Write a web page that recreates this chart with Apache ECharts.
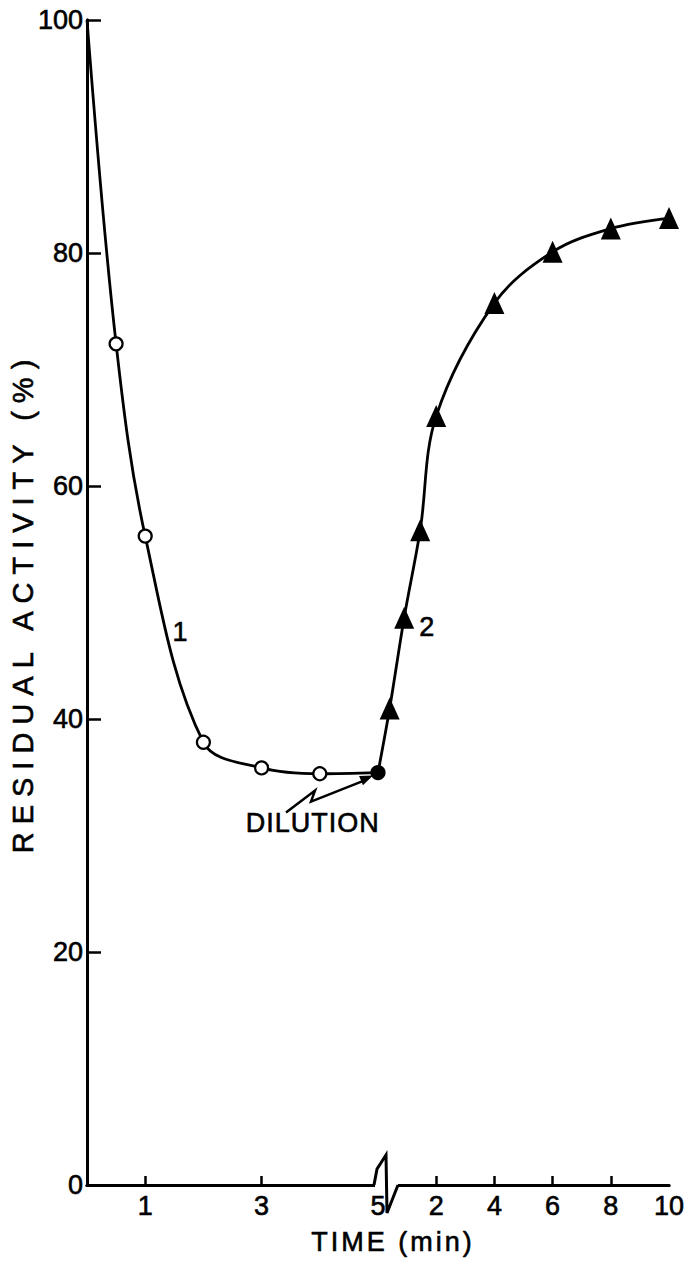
<!DOCTYPE html>
<html>
<head>
<meta charset="utf-8">
<script src="https://cdn.jsdelivr.net/npm/echarts@6/dist/echarts.min.js"></script>
<style>
  html, body { margin: 0; padding: 0; background: #fff; }
  #chart { width: 684px; height: 1264px; }
</style>
</head>
<body>
<div id="chart"></div>
<script>
// Residual activity during inactivation (curve 1) and recovery after dilution (curve 2)
const phase1Time = [0, 0.5, 1, 2, 3, 4, 5];                 // min
const phase1Activity = [100, 72.2, 55.7, 38.0, 35.8, 35.3, 35.4]; // %
const phase2Time = [0, 0.4, 0.9, 1.45, 2, 4, 6, 8, 10];      // min after dilution
const phase2Activity = [35.4, 40.9, 48.7, 56.2, 66, 75.7, 80.1, 82.1, 83.0]; // %

const yTickValues = [0, 20, 40, 60, 80, 100];
const phase1TickLabels = [1, 3, 5];
const phase1MinorTicks = [1, 3];
const phase2TickLabels = [2, 4, 6, 8, 10];
const phase2Ticks = [2, 4, 6, 8];

const yTitle = 'RESIDUAL ACTIVITY (%)';
const xTitle = 'TIME (min)';
const dilutionText = 'DILUTION';

// The time axis restarts at the dilution point; the second part runs at half scale.
const BREAK = 5;
const PHASE2_SCALE = 0.5;
const toAxis2 = t => BREAK + t * PHASE2_SCALE;

const FONT = '"Liberation Sans", Arial, sans-serif';
const INK = '#000';
// slightly heavier strokes for all lettering
const INK_TEXT = { color: INK, fontFamily: FONT, textBorderColor: INK, textBorderWidth: 0.6 };

const chart = echarts.init(document.getElementById('chart'), null, { renderer: 'svg' });

const series1Data = phase1Time.map((t, i) => {
  const d = { value: [t, phase1Activity[i]] };
  if (i === 0) d.symbol = 'none';
  if (i === phase1Time.length - 1) d.itemStyle = { color: INK, borderColor: INK };
  return d;
});
const series2Data = phase2Time.map((t, i) => {
  const d = { value: [toAxis2(t), phase2Activity[i]] };
  if (i === 0) d.symbol = 'none';
  return d;
});

const labelFmt = v => v <= BREAK ? String(v) : String(Math.round((v - BREAK) / PHASE2_SCALE));

chart.setOption({
  animation: false,
  backgroundColor: '#fff',
  grid: { left: 87, right: 15, top: 20, bottom: 79, containLabel: false, outerBoundsMode: 'none' },
  xAxis: [{
    type: 'value', min: 0, max: 10, interval: 1,
    axisLine: { show: true, lineStyle: { color: INK, width: 3 } },
    axisTick: {
      show: true, inside: true, length: 9, lineStyle: { color: INK, width: 2.5 },
      customValues: phase1MinorTicks.concat(phase2Ticks.map(toAxis2))
    },
    axisLabel: Object.assign({
      show: true, fontSize: 27, margin: 7,
      customValues: phase1TickLabels.concat(phase2TickLabels.map(toAxis2)),
      formatter: labelFmt
    }, INK_TEXT),
    splitLine: { show: false },
    name: xTitle, nameLocation: 'middle', nameGap: 43, nameMoveOverlap: false,
    nameTextStyle: Object.assign({ fontSize: 27, padding: [0, 0, 0, 30] }, INK_TEXT)
  }, {
    type: 'value', position: 'top', min: 0, max: 10,
    axisLine: { show: true, lineStyle: { color: INK, width: 3 } },
    axisTick: { show: false }, axisLabel: { show: false }, splitLine: { show: false }
  }],
  yAxis: [{
    type: 'value', min: 0, max: 100, interval: 20,
    axisLine: { show: true, lineStyle: { color: INK, width: 3 } },
    axisTick: { show: true, inside: true, length: 14, lineStyle: { color: INK, width: 2.5 } },
    axisLabel: Object.assign({
      show: true, fontSize: 27, margin: 4,
      customValues: yTickValues
    }, INK_TEXT),
    splitLine: { show: false },
    name: yTitle, nameLocation: 'middle', nameGap: 50, nameRotate: 90, nameMoveOverlap: false,
    nameTextStyle: Object.assign({ fontSize: 29 }, INK_TEXT)
  }, {
    type: 'value', position: 'right', min: 0, max: 100,
    axisLine: { show: true, lineStyle: { color: INK, width: 3 } },
    axisTick: { show: false }, axisLabel: { show: false }, splitLine: { show: false }
  }],
  series: [{
    name: '1', type: 'line', xAxisIndex: 0, yAxisIndex: 0,
    data: series1Data, smooth: 0.35,
    symbol: 'circle', symbolSize: 13,
    lineStyle: { color: INK, width: 2.8 },
    itemStyle: { color: '#fff', borderColor: INK, borderWidth: 2.2 },
    z: 3
  }, {
    name: '2', type: 'line', xAxisIndex: 0, yAxisIndex: 0,
    data: series2Data, smooth: 0.35,
    symbol: 'triangle', symbolSize: [20, 22],
    lineStyle: { color: INK, width: 2.8 },
    itemStyle: { color: INK, borderColor: INK, borderWidth: 0 },
    z: 4
  }]
});

// Decorations placed from data coordinates: axis break, curve numbers, dilution arrow
const px = (x, y) => chart.convertToPixel({ xAxisIndex: 0, yAxisIndex: 0 }, [x, y]);
const [bx, by] = px(BREAK, 0);
const dil = px(BREAK, phase1Activity[phase1Activity.length - 1]);
const rel = (dx, dy) => [dil[0] + dx, dil[1] + dy];

const arrowPts = [rel(-92, 40), rel(-63, 18), rel(-67, 29), rel(-14, 8)];
const tip = rel(-5, 3);
const from = arrowPts[2];
const vx = tip[0] - from[0], vy = tip[1] - from[1];
const len = Math.hypot(vx, vy);
const ux = vx / len, uy = vy / len;
const baseC = [tip[0] - 13 * ux, tip[1] - 13 * uy];
const head = [tip, [baseC[0] - 5 * uy, baseC[1] + 5 * ux], [baseC[0] + 5 * uy, baseC[1] - 5 * ux]];

const txt = (pos, text, size) => ({
  type: 'text', x: pos[0], y: pos[1], z: 120,
  style: { text, fill: INK, stroke: INK, lineWidth: 0.6, font: `${size}px ${FONT}`, align: 'center', verticalAlign: 'middle' }
});

chart.setOption({
  graphic: [
    { type: 'rect', z: 110, shape: { x: bx - 3, y: by - 4, width: 23, height: 8 }, style: { fill: '#fff' } },
    { type: 'polyline', z: 111,
      shape: { points: [[bx - 4, by], [bx - 1, by - 16], [bx + 8, by - 30], [bx + 9, by + 28], [bx + 20, by]] },
      style: { stroke: INK, lineWidth: 3, fill: null, lineJoin: 'miter' } },
    txt(px(1.6, 47.5), '1', 27),
    txt(px(5.84, 47.9), '2', 27),
    txt(px(3.88, 31.1), dilutionText, 27),
    { type: 'polyline', z: 111, shape: { points: arrowPts.concat([baseC]) },
      style: { stroke: INK, lineWidth: 2.5, fill: null } },
    { type: 'polygon', z: 112, shape: { points: head }, style: { fill: INK } }
  ]
});

// Wider letter spacing on the axis titles (SVG text)
const spacing = { [yTitle]: '8px', [xTitle]: '3px', [dilutionText]: '1px' };
function applySpacing() {
  document.querySelectorAll('#chart text').forEach(el => {
    const s = spacing[el.textContent];
    if (s) el.style.letterSpacing = s;
  });
}
applySpacing();
chart.on('finished', applySpacing);
</script>
</body>
</html>
